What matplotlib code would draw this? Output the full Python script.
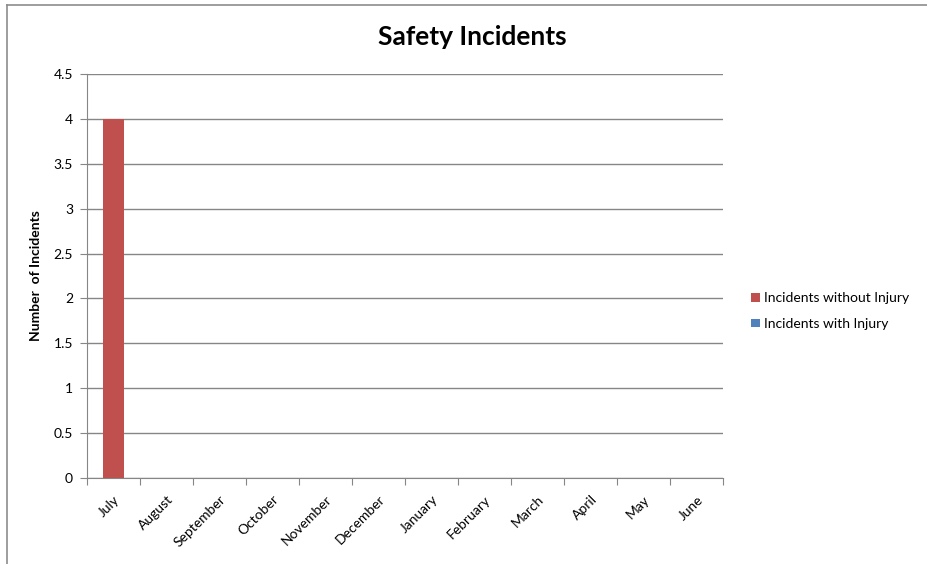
import matplotlib.pyplot as plt
from matplotlib.lines import Line2D

months = ['July', 'August', 'September', 'October', 'November', 'December',
          'January', 'February', 'March', 'April', 'May', 'June']
without_injury = [4, 0, 0, 0, 0, 0, 0, 0, 0, 0, 0, 0]
with_injury = [0, 0, 0, 0, 0, 0, 0, 0, 0, 0, 0, 0]
y_ticks = [0, 0.5, 1, 1.5, 2, 2.5, 3, 3.5, 4, 4.5]

plt.rcParams['font.family'] = ['Lato', 'DejaVu Sans']

W, H = 928, 564
fig = plt.figure(figsize=(W / 100, H / 100), dpi=100)
fig.patch.set_facecolor('white')

# chart frame (top and left edges only visible)
fig.lines.append(Line2D([7 / W, 1], [1 - 5 / H, 1 - 5 / H], transform=fig.transFigure,
                        color='#8c8c8c', linewidth=1.2))
fig.lines.append(Line2D([7 / W, 7 / W], [0, 1 - 5 / H], transform=fig.transFigure,
                        color='#8c8c8c', linewidth=1.2))

ax = fig.add_axes([87 / W, (H - 478) / H, (723 - 87) / W, (478 - 74) / H])
x = list(range(len(months)))
ax.bar(x, without_injury, width=0.4, color='#c0504d', label='Incidents without Injury', zorder=3)
ax.bar(x, with_injury, width=0.4, bottom=without_injury, color='#4f81bd',
       label='Incidents with Injury', zorder=3)

ax.set_xlim(-0.5, len(months) - 0.5)
ax.set_ylim(0, 4.5)
ax.set_yticks(y_ticks)
ax.set_yticklabels([f'{v:g}' for v in y_ticks], fontsize=10)
ax.yaxis.grid(True, color='#868686', linewidth=1, zorder=0)

ax.set_xticks([i - 0.5 for i in range(len(months) + 1)], minor=False)
ax.set_xticklabels([])
ax.set_xticks(x, minor=True)
ax.set_xticklabels(months, minor=True, rotation=45, ha='right', rotation_mode='anchor', fontsize=10)
ax.tick_params(axis='x', which='major', length=5, color='#868686')
ax.tick_params(axis='x', which='minor', length=0, pad=11)
ax.tick_params(axis='y', length=5, color='#868686', pad=5)

for side in ['top', 'right']:
    ax.spines[side].set_visible(False)
for side in ['left', 'bottom']:
    ax.spines[side].set_color('#868686')

ax.set_ylabel('Number  of Incidents', fontsize=10, fontweight='bold', labelpad=8)
fig.text(472 / W, 1 - 37 / H, 'Safety Incidents', fontsize=19, fontweight='bold',
         ha='center', va='center')

fig.legend(loc='center left', bbox_to_anchor=(739 / W, 1 - 311 / H), frameon=False,
           fontsize=10, handlelength=0.6, handleheight=0.6, handletextpad=0.3,
           labelspacing=1.0)

fig.savefig('out.png', dpi=100)
